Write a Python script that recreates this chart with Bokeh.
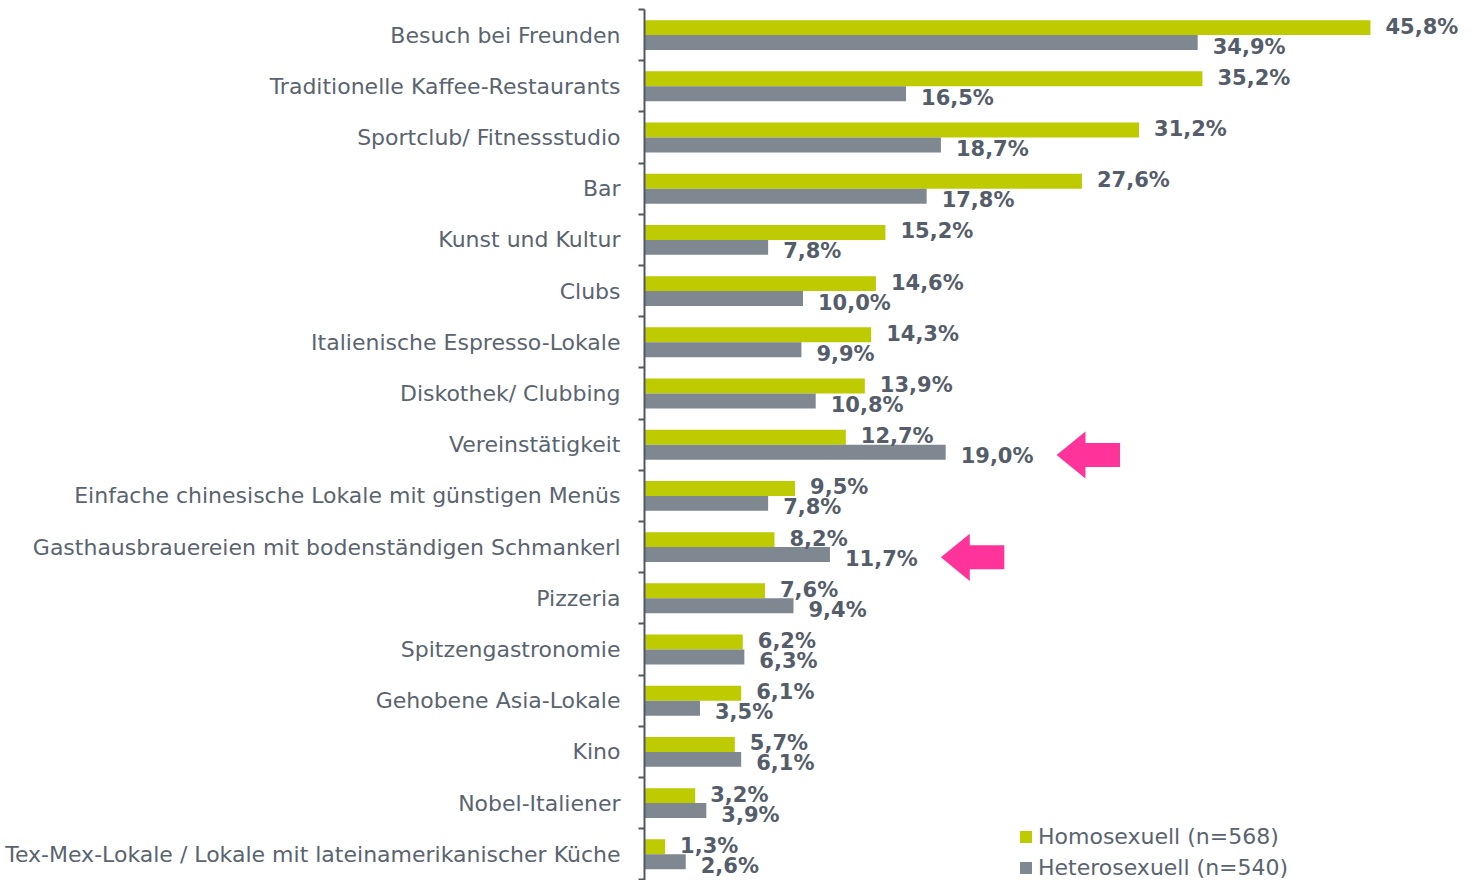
from bokeh.plotting import figure
from bokeh.models import Range1d, FixedTicker, Legend, LegendItem, ColumnDataSource
from bokeh.embed import file_html
from bokeh.resources import INLINE
from bokeh.core.properties import value

categories = [
    "Besuch bei Freunden",
    "Traditionelle Kaffee-Restaurants",
    "Sportclub/ Fitnessstudio",
    "Bar",
    "Kunst und Kultur",
    "Clubs",
    "Italienische Espresso-Lokale",
    "Diskothek/ Clubbing",
    "Vereinstätigkeit",
    "Einfache chinesische Lokale mit günstigen Menüs",
    "Gasthausbrauereien mit bodenständigen Schmankerl",
    "Pizzeria",
    "Spitzengastronomie",
    "Gehobene Asia-Lokale",
    "Kino",
    "Nobel-Italiener",
    "Tex-Mex-Lokale / Lokale mit lateinamerikanischer Küche",
]
homo = [45.8, 35.2, 31.2, 27.6, 15.2, 14.6, 14.3, 13.9, 12.7, 9.5, 8.2, 7.6, 6.2, 6.1, 5.7, 3.2, 1.3]
hetero = [34.9, 16.5, 18.7, 17.8, 7.8, 10.0, 9.9, 10.8, 19.0, 7.8, 11.7, 9.4, 6.3, 3.5, 6.1, 3.9, 2.6]
series_names = ["Homosexuell (n=568)", "Heterosexuell (n=540)"]
highlighted = ["Vereinstätigkeit", "Gasthausbrauereien mit bodenständigen Schmankerl"]

GREEN = "#BDCB00"
GREY = "#7F8791"
TEXT = "#5A6470"
LABEL = "#545D69"
AXIS = "#4E5966"
PINK = "#FF3399"

n = len(categories)
idx = list(range(n))


def fmt(v):
    return f"{v:.1f}%".replace(".", ",")


src_h = ColumnDataSource(dict(y=[i - 0.146 for i in idx], v=homo, lab=[fmt(v) for v in homo]))
src_t = ColumnDataSource(dict(y=[i + 0.146 for i in idx], v=hetero, lab=[fmt(v) for v in hetero]))

p = figure(width=1460, height=880, output_backend="svg", toolbar_location=None,
           x_range=Range1d(0, 51.48), y_range=Range1d(16.512, -0.5),
           min_border_left=644, min_border_right=0, min_border_top=9, min_border_bottom=0)
p.outline_line_color = None
p.xgrid.visible = False
p.ygrid.visible = False
p.xaxis.visible = False
p.background_fill_color = "white"
p.border_fill_color = "white"

r_h = p.hbar(y="y", right="v", left=0, height=0.292, source=src_h, fill_color=GREEN, line_color=None)
r_t = p.hbar(y="y", right="v", left=0, height=0.292, source=src_t, fill_color=GREY, line_color=None)

p.text(x="v", y="y", text="lab", source=src_h, x_offset=15, y_offset=-1,
       text_font=value("DejaVu Sans"), text_font_style="bold", text_font_size="21px",
       text_color=LABEL, text_baseline="middle", text_align="left")
p.text(x="v", y="y", text="lab", source=src_t, x_offset=15, y_offset=4,
       text_font=value("DejaVu Sans"), text_font_style="bold", text_font_size="21px",
       text_color=LABEL, text_baseline="middle", text_align="left")

# highlight arrows next to selected hetero values
axs, ays = [], []
for name in highlighted:
    i = categories.index(name)
    tip = hetero[i] + 7.0
    c = i + 0.2
    axs.append([tip, tip + 1.82, tip + 1.82, tip + 4.0, tip + 4.0, tip + 1.82, tip + 1.82])
    ays.append([c, c - 0.46, c - 0.235, c - 0.235, c + 0.235, c + 0.235, c + 0.46])
p.patches(xs=axs, ys=ays, fill_color=PINK, line_color=None)

ax = p.yaxis[0]
ax.ticker = FixedTicker(ticks=idx, minor_ticks=[i - 0.5 for i in range(n + 1)])
ax.major_label_overrides = {i: c for i, c in enumerate(categories)}
ax.major_label_text_font = "DejaVu Sans"
ax.major_label_text_font_size = "22px"
ax.major_label_text_color = TEXT
ax.major_label_standoff = 18
ax.major_tick_out = 0
ax.major_tick_in = 0
ax.minor_tick_out = 6
ax.minor_tick_in = 0
ax.minor_tick_line_color = AXIS
ax.minor_tick_line_width = 2
ax.axis_line_color = AXIS
ax.axis_line_width = 2

legend = Legend(items=[LegendItem(label=series_names[0], renderers=[r_h]),
                       LegendItem(label=series_names[1], renderers=[r_t])],
                location=(374, 0), orientation="vertical",
                glyph_width=15, glyph_height=15, label_standoff=5, spacing=6,
                label_text_font="DejaVu Sans", label_text_font_size="22px",
                label_text_color=TEXT, padding=0, margin=0,
                border_line_color=None, background_fill_alpha=0)
p.add_layout(legend)

open("out.html", "w").write(file_html(p, INLINE))
